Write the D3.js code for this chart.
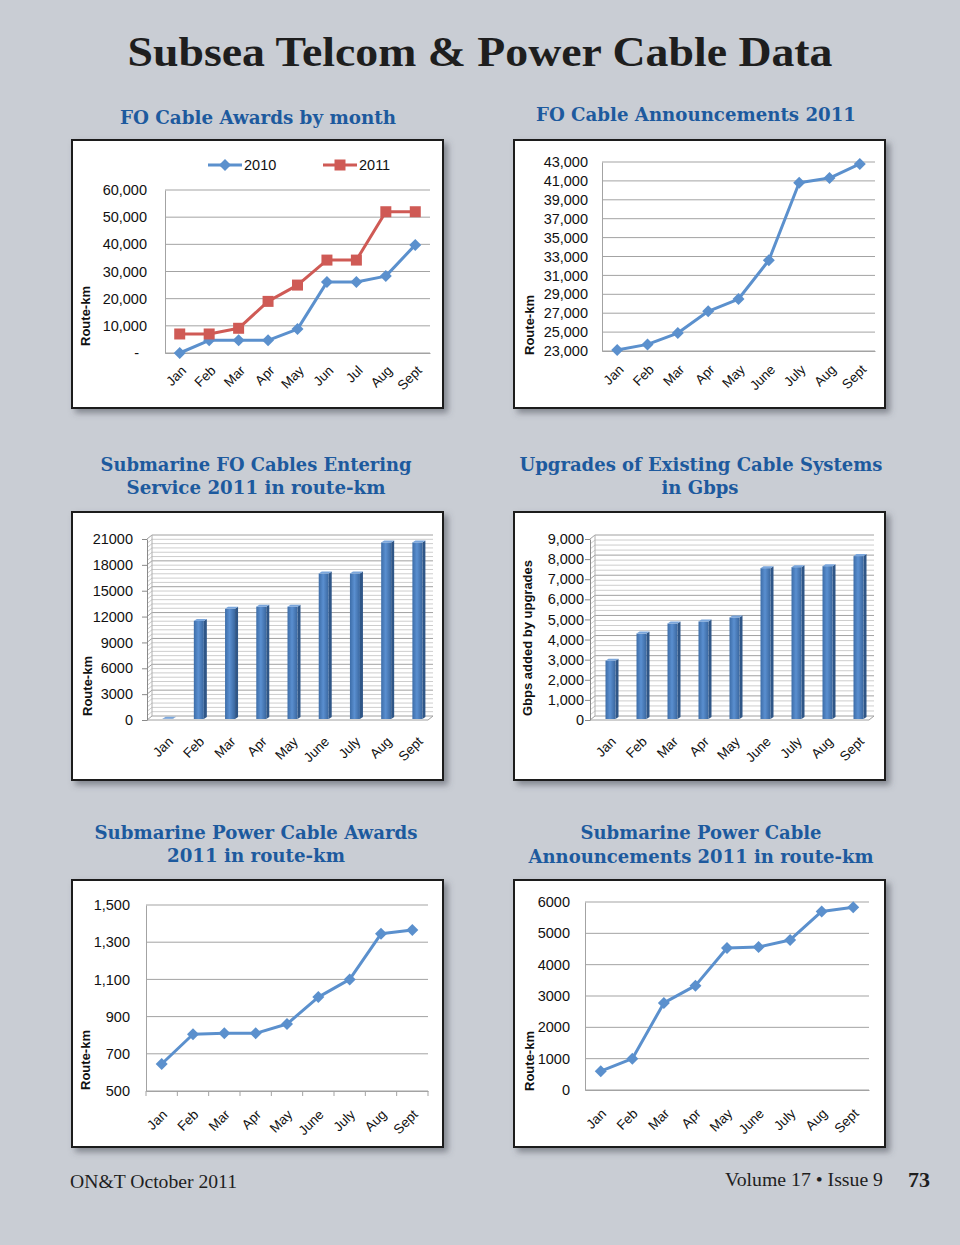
<!DOCTYPE html>
<html>
<head>
<meta charset="utf-8">
<script src="https://cdn.jsdelivr.net/npm/d3@7"></script>
<style>
  body { margin: 0; background: #c9cdd4; }
  svg { display: block; }
</style>
</head>
<body>
<div id="page"></div>
<script>
// ---- data ----
const MONTHS_A = ["Jan", "Feb", "Mar", "Apr", "May", "Jun", "Jul", "Aug", "Sept"];
const MONTHS = ["Jan", "Feb", "Mar", "Apr", "May", "June", "July", "Aug", "Sept"];

const AWARDS_2010 = [0, 4650, 4650, 4650, 8800, 26100, 26100, 28300, 39800];
const AWARDS_2011 = [7000, 7000, 9100, 19000, 25000, 34200, 34200, 52000, 52000];
const AWARDS_TICKS = [0, 10000, 20000, 30000, 40000, 50000, 60000];

const ANNOUNCE = [23100, 23700, 24900, 27200, 28500, 32600, 40800, 41300, 42800];
const ANNOUNCE_TICKS = [23000, 25000, 27000, 29000, 31000, 33000, 35000, 37000, 39000, 41000, 43000];

const ENTERING = [150, 11500, 12900, 13150, 13150, 17000, 17000, 20600, 20600];
const ENTERING_TICKS = [0, 3000, 6000, 9000, 12000, 15000, 18000, 21000];

const UPGRADES = [2950, 4300, 4800, 4900, 5100, 7550, 7600, 7650, 8150];
const UPGRADES_TICKS = [0, 1000, 2000, 3000, 4000, 5000, 6000, 7000, 8000, 9000];

const POWER_AWARDS = [645, 805, 810, 810, 860, 1005, 1100, 1345, 1365];
const POWER_AWARDS_TICKS = [500, 700, 900, 1100, 1300, 1500];

const POWER_ANN = [600, 1000, 2780, 3330, 4530, 4560, 4790, 5700, 5830];
const POWER_ANN_TICKS = [0, 1000, 2000, 3000, 4000, 5000, 6000];

// ---- page setup ----
const W = 960, H = 1245;
const BLUE = "#5b90cd", RED = "#cf5a55", GRID = "#a3a3a3";
const FONT = "'Liberation Sans', Arial, sans-serif";

const svg = d3.select('#page').append('svg')
  .attr('width', W).attr('height', H);

svg.append('rect').attr('width', W).attr('height', H).attr('fill', '#c9cdd4');

const defs = svg.append('defs');
defs.append('filter').attr('id', 'shadow')
  .attr('x', '-5%').attr('y', '-5%').attr('width', '115%').attr('height', '115%')
  .append('feDropShadow')
  .attr('dx', 4).attr('dy', 4).attr('stdDeviation', 3)
  .attr('flood-color', '#4a4e55').attr('flood-opacity', 0.55);

const grad = defs.append('linearGradient').attr('id', 'barGrad')
  .attr('x1', '0%').attr('x2', '100%').attr('y1', '0%').attr('y2', '0%');
grad.append('stop').attr('offset', '0%').attr('stop-color', '#3d6da8');
grad.append('stop').attr('offset', '45%').attr('stop-color', '#5a8fd0');
grad.append('stop').attr('offset', '100%').attr('stop-color', '#3a679f');

// main title
svg.append('text')
  .attr('x', 480).attr('y', 66)
  .attr('text-anchor', 'middle')
  .attr('font-family', "'Liberation Serif', 'DejaVu Serif', serif")
  .attr('font-weight', 'bold').attr('font-size', 42)
  .attr('fill', '#1e1e1e')
  .attr('textLength', 705).attr('lengthAdjust', 'spacingAndGlyphs')
  .text('Subsea Telcom & Power Cable Data');

// chart subtitles: [text, centre x, baseline, width]
const SUBTITLES = [
  ["FO Cable Awards by month", 258, 124, 276],
  ["FO Cable Announcements 2011", 696, 121, 320],
  ["Submarine FO Cables Entering", 256, 471, 311],
  ["Service 2011 in route-km", 256, 494, 259],
  ["Upgrades of Existing Cable Systems", 701, 471, 363],
  ["in Gbps", 700, 494, 77],
  ["Submarine Power Cable Awards", 256, 839, 323],
  ["2011 in route-km", 256, 862, 178],
  ["Submarine Power Cable", 701, 839, 241],
  ["Announcements 2011 in route-km", 701, 863, 345]
];
svg.selectAll('.subtitle').data(SUBTITLES).join('text')
  .attr('class', 'subtitle')
  .attr('x', d => d[1]).attr('y', d => d[2])
  .attr('text-anchor', 'middle')
  .attr('font-family', "'DejaVu Serif', serif")
  .attr('font-weight', 'bold').attr('font-size', 19)
  .attr('fill', '#1d5a9e')
  .attr('textLength', d => d[3]).attr('lengthAdjust', 'spacingAndGlyphs')
  .text(d => d[0]);

// footer
svg.append('text').attr('x', 70).attr('y', 1188)
  .attr('font-family', "'Liberation Serif', serif").attr('font-size', 18)
  .attr('fill', '#1e1e1e')
  .attr('textLength', 167).attr('lengthAdjust', 'spacingAndGlyphs')
  .text('ON&T October 2011');
svg.append('text').attr('x', 883).attr('y', 1186).attr('text-anchor', 'end')
  .attr('font-family', "'Liberation Serif', serif").attr('font-size', 18)
  .attr('fill', '#1e1e1e')
  .attr('textLength', 158).attr('lengthAdjust', 'spacingAndGlyphs')
  .text('Volume 17 \u2022 Issue 9');
svg.append('text').attr('x', 930).attr('y', 1187).attr('text-anchor', 'end')
  .attr('font-family', "'Liberation Serif', serif").attr('font-size', 22)
  .attr('font-weight', 'bold').attr('fill', '#1e1e1e')
  .text('73');

// white framed panel with shadow
function drawBox(b) {
  svg.append('rect')
    .attr('x', b.x).attr('y', b.y).attr('width', b.w).attr('height', b.h)
    .attr('fill', '#fff').attr('stroke', '#1c1c1c').attr('stroke-width', 2)
    .attr('filter', 'url(#shadow)');
}

function yTitle(t) {
  svg.append('text')
    .attr('transform', `translate(${t.x},${t.y}) rotate(-90)`)
    .attr('text-anchor', 'middle').attr('dy', '0.35em')
    .attr('font-family', FONT).attr('font-weight', 'bold').attr('font-size', 13)
    .attr('fill', '#111')
    .text(t.text);
}

function styleXLabels(g, dx, dy) {
  g.selectAll('text')
    .attr('y', 0).attr('dy', '0.35em')
    .attr('text-anchor', 'end')
    .attr('transform', `translate(${dx},${dy}) rotate(-45)`)
    .attr('font-family', FONT).attr('font-size', 13.5).attr('fill', '#111');
}

function lineChart(o) {
  drawBox(o.box);
  const g = svg.append('g');

  const x = d3.scaleBand().domain(o.cats).range([o.x0, o.x1]);
  const y = d3.scaleLinear().domain(o.domain).range([o.yBottom, o.yTop]);

  // grid
  g.selectAll('.grid').data(o.ticks).join('line')
    .attr('x1', o.x0).attr('x2', o.x1)
    .attr('y1', d => y(d)).attr('y2', d => y(d))
    .attr('stroke', GRID).attr('stroke-width', 1);

  // y axis
  const ya = g.append('g').attr('transform', `translate(${o.x0},0)`)
    .call(d3.axisLeft(y).tickValues(o.ticks).tickSize(0).tickSizeOuter(0)
      .tickPadding(o.x0 - o.labelRight).tickFormat(o.fmt));
  ya.select('.domain').attr('stroke', GRID);
  ya.selectAll('text').attr('font-family', FONT).attr('font-size', 14.5).attr('fill', '#111');
  if (o.after) o.after(ya);

  // x axis
  const xa = g.append('g').attr('transform', `translate(0,${o.yBottom})`)
    .call(d3.axisBottom(x).tickSize(0).tickSizeOuter(0));
  xa.select('.domain').attr('stroke', GRID);
  styleXLabels(xa, o.lab[0], o.lab[1]);

  if (o.xTicks) {
    const edges = o.cats.map(c => x(c)).concat([o.x1]);
    g.selectAll('.xt').data(edges).join('line')
      .attr('x1', d => d).attr('x2', d => d)
      .attr('y1', o.yBottom).attr('y2', o.yBottom + 5)
      .attr('stroke', GRID);
  }

  const line = d3.line()
    .x((d, i) => x(o.cats[i]) + x.bandwidth() / 2)
    .y(d => y(d));

  o.series.forEach(s => {
    g.append('path').datum(s.values)
      .attr('fill', 'none').attr('stroke', s.color)
      .attr('stroke-width', 3).attr('stroke-linejoin', 'round')
      .attr('d', line);
    g.selectAll(null).data(s.values).join('path')
      .attr('transform', (d, i) => `translate(${x(o.cats[i]) + x.bandwidth() / 2},${y(d)})`)
      .attr('d', s.marker === 'square' ? 'M-5.5,-5.5H5.5V5.5H-5.5Z' : 'M0,-6L6,0L0,6L-6,0Z')
      .attr('fill', s.color);
  });

  yTitle(o.yTitle);
}

function bar3dChart(o) {
  drawBox(o.box);
  const g = svg.append('g');
  const DX = 5, DY = 4;
  const wall0 = o.axisX + DX;

  const x = d3.scaleBand().domain(o.cats).range([wall0, o.wallX1]);
  const y = d3.scaleLinear().domain(o.domain).range([o.yBottom, o.yTop]);

  // minor + major grid on back wall and left wall
  const minor = d3.range(o.domain[0], o.domain[1] + 1, o.minorStep);
  minor.forEach(v => {
    const major = o.ticks.includes(v);
    const c = major ? '#a0a0a0' : '#cdcdcd';
    g.append('line').attr('x1', wall0).attr('x2', o.wallX1)
      .attr('y1', y(v) - DY).attr('y2', y(v) - DY).attr('stroke', c);
    g.append('line').attr('x1', o.axisX).attr('x2', wall0)
      .attr('y1', y(v)).attr('y2', y(v) - DY).attr('stroke', c);
  });
  g.append('line').attr('x1', wall0).attr('x2', wall0)
    .attr('y1', y(o.domain[0]) - DY).attr('y2', y(o.domain[1]) - DY).attr('stroke', '#b0b0b0');
  // floor front edge
  g.append('line').attr('x1', o.axisX).attr('x2', o.wallX1 - DX)
    .attr('y1', o.yBottom).attr('y2', o.yBottom).attr('stroke', '#a0a0a0');
  g.append('line').attr('x1', o.wallX1 - DX).attr('x2', o.wallX1)
    .attr('y1', o.yBottom).attr('y2', o.yBottom - DY).attr('stroke', '#a0a0a0');

  // y axis
  const ya = g.append('g').attr('transform', `translate(${o.axisX},0)`)
    .call(d3.axisLeft(y).tickValues(o.ticks).tickSize(5).tickSizeOuter(0)
      .tickPadding(o.axisX - o.labelRight - 5).tickFormat(o.fmt));
  ya.select('.domain').attr('stroke', '#8a8a8a');
  ya.selectAll('line').attr('stroke', '#8a8a8a');
  ya.selectAll('text').attr('font-family', FONT).attr('font-size', 14.5).attr('fill', '#111');

  // x axis labels only
  const xa = g.append('g').attr('transform', `translate(0,${o.yBottom})`)
    .call(d3.axisBottom(x).tickSize(0).tickSizeOuter(0));
  xa.select('.domain').remove();
  styleXLabels(xa, o.lab[0], o.lab[1]);

  // bars
  const bw = 10, bdx = 3, bdy = 2;
  o.values.forEach((v, i) => {
    const cx = x(o.cats[i]) + x.bandwidth() / 2;
    const x0 = cx - bw / 2, yt = y(v), yb = o.yBottom - 1;
    g.append('polygon')
      .attr('points', [[x0 + bw, yt], [x0 + bw + bdx, yt - bdy], [x0 + bw + bdx, yb - bdy], [x0 + bw, yb]].join(' '))
      .attr('fill', '#2f5687');
    g.append('rect').attr('x', x0).attr('y', yt).attr('width', bw).attr('height', Math.max(0, yb - yt))
      .attr('fill', 'url(#barGrad)');
    g.append('polygon')
      .attr('points', [[x0, yt], [x0 + bdx, yt - bdy], [x0 + bw + bdx, yt - bdy], [x0 + bw, yt]].join(' '))
      .attr('fill', '#7aa6dc');
  });

  yTitle(o.yTitle);
}

// ---- the six charts ----
lineChart({
  box: {x: 72, y: 140, w: 371, h: 268},
  cats: MONTHS_A, x0: 165, x1: 430, yTop: 190, yBottom: 353,
  domain: [0, 60000], ticks: AWARDS_TICKS, labelRight: 147,
  fmt: d => d === 0 ? '-' : d3.format(',')(d),
  after: ya => ya.selectAll('text').filter(d => d === 0).attr('dx', -8),
  lab: [4, 15],
  series: [
    {values: AWARDS_2010, color: BLUE, marker: 'diamond'},
    {values: AWARDS_2011, color: RED, marker: 'square'}
  ],
  yTitle: {x: 85, y: 316, text: 'Route-km'}
});

// legend for chart 1
const LEGEND = [
  {label: '2010', color: BLUE, marker: 'diamond', x: 208},
  {label: '2011', color: RED, marker: 'square', x: 323}
];
LEGEND.forEach(l => {
  svg.append('line').attr('x1', l.x).attr('x2', l.x + 34).attr('y1', 165).attr('y2', 165)
    .attr('stroke', l.color).attr('stroke-width', 3);
  svg.append('path').attr('transform', `translate(${l.x + 17},165)`)
    .attr('d', l.marker === 'square' ? 'M-5.5,-5.5H5.5V5.5H-5.5Z' : 'M0,-6L6,0L0,6L-6,0Z')
    .attr('fill', l.color);
  svg.append('text').attr('x', l.x + 36).attr('y', 165).attr('dy', '0.35em')
    .attr('font-family', FONT).attr('font-size', 14.5).attr('fill', '#111')
    .text(l.label);
});

lineChart({
  box: {x: 514, y: 140, w: 371, h: 268},
  cats: MONTHS, x0: 602, x1: 875, yTop: 162, yBottom: 351,
  domain: [23000, 43000], ticks: ANNOUNCE_TICKS, labelRight: 588,
  fmt: d3.format(','), lab: [4, 16],
  series: [{values: ANNOUNCE, color: BLUE, marker: 'diamond'}],
  yTitle: {x: 529, y: 325, text: 'Route-km'}
});

bar3dChart({
  box: {x: 72, y: 512, w: 371, h: 268},
  cats: MONTHS, axisX: 147, wallX1: 433, yTop: 539, yBottom: 720,
  domain: [0, 21000], ticks: ENTERING_TICKS, minorStep: 500, labelRight: 133,
  fmt: d3.format('d'), values: ENTERING, lab: [3, 19],
  yTitle: {x: 87, y: 686, text: 'Route-km'}
});

bar3dChart({
  box: {x: 514, y: 512, w: 371, h: 268},
  cats: MONTHS, axisX: 590, wallX1: 874, yTop: 539, yBottom: 720,
  domain: [0, 9000], ticks: UPGRADES_TICKS, minorStep: 250, labelRight: 584,
  fmt: d3.format(','), values: UPGRADES, lab: [3, 19],
  yTitle: {x: 527, y: 638, text: 'Gbps added by upgrades'}
});

lineChart({
  box: {x: 72, y: 880, w: 371, h: 267},
  cats: MONTHS, x0: 146, x1: 428, yTop: 905, yBottom: 1091,
  domain: [500, 1500], ticks: POWER_AWARDS_TICKS, labelRight: 130,
  fmt: d3.format(','), lab: [3, 21], xTicks: true,
  series: [{values: POWER_AWARDS, color: BLUE, marker: 'diamond'}],
  yTitle: {x: 85, y: 1060, text: 'Route-km'}
});

lineChart({
  box: {x: 514, y: 880, w: 371, h: 267},
  cats: MONTHS, x0: 585, x1: 869, yTop: 902, yBottom: 1090,
  domain: [0, 6000], ticks: POWER_ANN_TICKS, labelRight: 570,
  fmt: d3.format('d'), lab: [3, 21],
  series: [{values: POWER_ANN, color: BLUE, marker: 'diamond'}],
  yTitle: {x: 529, y: 1061, text: 'Route-km'}
});
</script>
</body>
</html>
